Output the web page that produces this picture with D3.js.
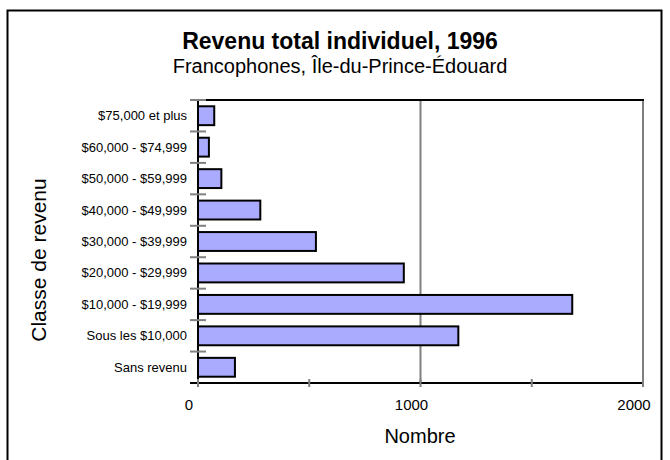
<!DOCTYPE html>
<html><head><meta charset="utf-8">
<script src="https://cdn.jsdelivr.net/npm/d3@7"></script>
<style>body{margin:0;background:#fff}svg{display:block}text{font-family:"Liberation Sans",Arial,sans-serif;fill:#000}</style>
</head><body><svg id="c" width="670" height="460"></svg>
<script>
const categories = ["$75,000 et plus","$60,000 - $74,999","$50,000 - $59,999","$40,000 - $49,999","$30,000 - $39,999","$20,000 - $29,999","$10,000 - $19,999","Sous les $10,000","Sans revenu"];
const values = [73, 49, 105, 280, 530, 925, 1682, 1170, 166];
const xTicks = [0, 1000, 2000];
const xMinorTicks = [0, 500, 1000, 1500, 2000];
const title = "Revenu total individuel, 1996";
const subtitle = "Francophones, Île-du-Prince-Édouard";
const xTitle = "Nombre";
const yTitle = "Classe de revenu";

const svg = d3.select("#c");
const L = 198, R = 643, T = 100, B = 383;
const x = d3.scaleLinear().domain([0, 2000]).range([L, R]);
const y = d3.scaleBand().domain(categories).range([T, B]).paddingInner(0.4).paddingOuter(0.2);

// outer frame
svg.append("rect").attr("x", 7.5).attr("y", 10.5).attr("width", 654).attr("height", 470)
  .attr("fill", "none").attr("stroke", "#000").attr("stroke-width", 2);

// title
svg.append("text").attr("x", 340).attr("y", 49).attr("text-anchor", "middle")
  .style("font-size", "23px").style("font-weight", "bold").text(title);
svg.append("text").attr("x", 340).attr("y", 73).attr("text-anchor", "middle")
  .style("font-size", "20px").text(subtitle);

// gridlines
svg.append("g").selectAll("line").data([1000, 2000]).join("line")
  .attr("x1", d => x(d)).attr("x2", d => x(d)).attr("y1", T).attr("y2", B)
  .attr("stroke", "#808080").attr("stroke-width", 2);
// top border
svg.append("line").attr("x1", L).attr("x2", R + 1).attr("y1", T).attr("y2", T)
  .attr("stroke", "#000").attr("stroke-width", 2);

// bars
svg.append("g").selectAll("rect").data(categories).join("rect")
  .attr("x", x(0)).attr("y", d => y(d))
  .attr("width", (d, i) => x(values[i]) - x(0)).attr("height", y.bandwidth())
  .attr("fill", "#aaaaff").attr("stroke", "#000").attr("stroke-width", 2);

// left axis line and category ticks
const step = y.step();
const bounds = d3.range(categories.length + 1).map(i => T + i * step);
svg.append("line").attr("x1", L).attr("x2", L).attr("y1", T).attr("y2", B + 3)
  .attr("stroke", "#000").attr("stroke-width", 2);
svg.append("g").selectAll("line").data(bounds).join("line")
  .attr("x1", L - 8).attr("x2", L + 8).attr("y1", d => d).attr("y2", d => d)
  .attr("stroke", "#808080").attr("stroke-width", 2);
svg.append("g").selectAll("text").data(categories).join("text")
  .attr("x", 187).attr("y", d => y(d) + y.bandwidth() / 2).attr("dy", "0.35em")
  .attr("text-anchor", "end").style("font-size", "13px").text(d => d);

// bottom axis
svg.append("line").attr("x1", L - 8).attr("x2", R + 1).attr("y1", B).attr("y2", B)
  .attr("stroke", "#000").attr("stroke-width", 2);
svg.append("g").selectAll("line").data(xMinorTicks).join("line")
  .attr("x1", d => x(d)).attr("x2", d => x(d)).attr("y1", B - 4).attr("y2", B + 4)
  .attr("stroke", "#808080").attr("stroke-width", 2);
svg.append("g").selectAll("text").data(xTicks).join("text")
  .attr("x", d => x(d) - 9).attr("y", 410).attr("text-anchor", "middle")
  .style("font-size", "15px").text(d => d);

svg.append("text").attr("x", 420).attr("y", 443).attr("text-anchor", "middle")
  .style("font-size", "20px").text(xTitle);
svg.append("text").attr("transform", "translate(46,260) rotate(-90)").attr("text-anchor", "middle")
  .style("font-size", "21px").text(yTitle);
</script></body></html>
